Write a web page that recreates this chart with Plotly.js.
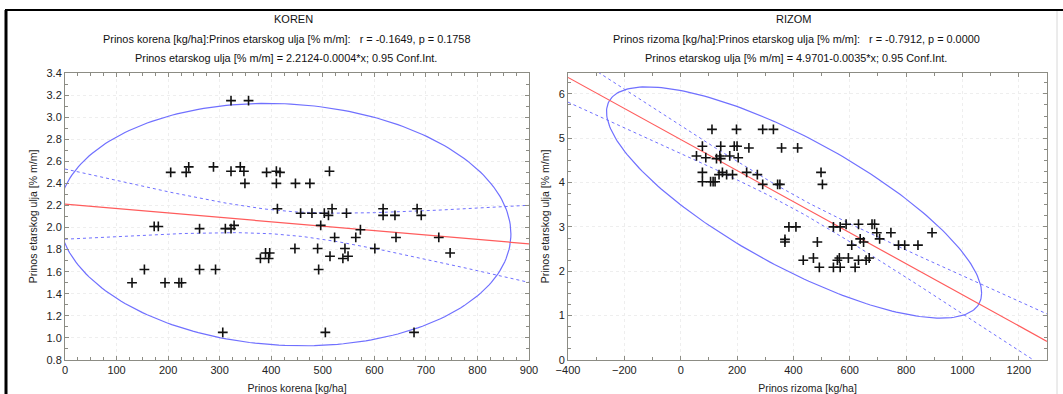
<!DOCTYPE html>
<html>
<head>
<meta charset="utf-8">
<script src="https://cdn.plot.ly/plotly-3.0.1.min.js"></script>
<style>
  html, body { margin: 0; padding: 0; background: #fff; }
  #chart { width: 1063px; height: 394px; }
</style>
</head>
<body>
<div id="chart"></div>
<script>
// ---------------- DATA ----------------
// KOREN: Prinos korena [kg/ha] vs Prinos etarskog ulja [% m/m]
const korenX = [130,154,173,181,194,205,221,226,235,240,261,261,288,292,306,311,322,322,322,328,
  340,347,349,356,379,389,391,395,397,410,410,412,417,446,447,457,475,479,490,492,
  496,503,505,511,513,514,518,523,539,543,546,549,564,573,601,617,617,640,642,677,
  683,691,725,747];
const korenY = [1.50,1.62,2.01,2.01,1.50,2.50,1.50,1.50,2.50,2.55,1.99,1.62,2.55,1.62,1.05,1.99,3.15,2.51,1.99,2.02,
  2.55,2.51,2.40,3.15,1.72,1.77,2.50,1.72,1.77,2.51,2.40,2.17,2.50,1.81,2.40,2.13,2.40,2.13,1.81,1.62,
  2.02,2.13,1.05,2.11,2.51,1.74,2.17,1.91,1.72,1.81,2.13,1.74,1.91,1.98,1.81,2.17,2.11,2.11,1.91,1.05,
  2.17,2.11,1.91,1.77];

// RIZOM: Prinos rizoma [kg/ha] vs Prinos etarskog ulja [% m/m]
const rizomX = [56,77,77,77,89,106,111,115,122,127,136,139,142,142,148,163,174,184,190,198,
  200,204,234,242,272,291,291,329,344,352,358,370,370,384,409,415,435,471,485,492,
  498,503,542,542,556,563,566,566,587,595,607,619,631,631,637,649,658,669,679,688,
  696,706,746,773,795,842,892];
const rizomY = [4.60,4.82,4.23,4.02,4.56,4.02,5.20,4.02,4.02,4.54,4.18,4.60,4.82,4.54,4.23,4.18,4.60,4.18,4.82,5.20,
  4.82,4.56,4.23,4.78,4.18,5.20,3.96,5.20,3.96,3.96,4.78,2.72,2.66,3.00,3.00,4.78,2.25,2.30,2.66,2.09,
  4.23,3.96,3.00,2.09,2.25,2.30,3.00,2.09,3.06,2.30,2.59,2.09,3.06,2.25,2.73,2.66,2.25,2.30,3.06,3.06,
  2.87,2.73,2.87,2.59,2.59,2.59,2.87];

// Stated regression results (from the chart titles)
const korenFit = { a: 2.2124, b: -0.0004, r: "-0.1649", p: "0.1758" };
const rizomFit = { a: 4.9701, b: -0.0035, r: "-0.7912", p: "0.0000" };

const titleKoren = ["KOREN",
  "Prinos korena [kg/ha]:Prinos etarskog ulja [% m/m]:   r = " + korenFit.r + ", p = " + korenFit.p,
  "Prinos etarskog ulja [% m/m] = 2.2124-0.0004*x; 0.95 Conf.Int."];
const titleRizom = ["RIZOM",
  "Prinos rizoma [kg/ha]:Prinos etarskog ulja [% m/m]:   r = " + rizomFit.r + ", p = " + rizomFit.p,
  "Prinos etarskog ulja [% m/m] = 4.9701-0.0035*x; 0.95 Conf.Int."];

const xTitleKoren = "Prinos korena [kg/ha]";
const xTitleRizom = "Prinos rizoma [kg/ha]";
const yTitle = "Prinos etarskog ulja [% m/m]";

const korenRangeX = [0, 900], korenRangeY = [0.8, 3.4];
const rizomRangeX = [-400, 1300], rizomRangeY = [0, 6.47];

// ---------------- statistics ----------------
const T_CRIT = 1.999;   // t(0.975, ~62 df)
const ELL_KX = 2.85;    // ellipse scale along x (Statistica-like 0.95 ellipse)
const ELL_KY = 2.58;    // ellipse scale along y

function stats(xs, ys) {
  const n = xs.length;
  const mx = xs.reduce((s, v) => s + v, 0) / n;
  const my = ys.reduce((s, v) => s + v, 0) / n;
  let sxx = 0, syy = 0, sxy = 0;
  for (let i = 0; i < n; i++) {
    sxx += (xs[i] - mx) ** 2; syy += (ys[i] - my) ** 2; sxy += (xs[i] - mx) * (ys[i] - my);
  }
  return { n, mx, my, sxx, sx: Math.sqrt(sxx / (n - 1)), sy: Math.sqrt(syy / (n - 1)), r: sxy / Math.sqrt(sxx * syy) };
}

function fitCurves(xs, ys, fit, range) {
  const st = stats(xs, ys);
  let sse = 0;
  for (let i = 0; i < st.n; i++) sse += (ys[i] - (fit.a + fit.b * xs[i])) ** 2;
  const s = Math.sqrt(sse / (st.n - 2));
  const lx = [], ly = [], up = [], lo = [];
  const steps = 120;
  for (let i = 0; i <= steps; i++) {
    const x = range[0] + (range[1] - range[0]) * i / steps;
    const yh = fit.a + fit.b * x;
    const se = s * Math.sqrt(1 / st.n + (x - st.mx) ** 2 / st.sxx);
    lx.push(x); ly.push(yh); up.push(yh + T_CRIT * se); lo.push(yh - T_CRIT * se);
  }
  const ex = [], ey = [];
  const rr = st.r, q = Math.sqrt(1 - rr * rr);
  for (let i = 0; i <= 240; i++) {
    const t = 2 * Math.PI * i / 240;
    ex.push(st.mx + ELL_KX * st.sx * Math.cos(t));
    ey.push(st.my + ELL_KY * st.sy * (rr * Math.cos(t) + q * Math.sin(t)));
  }
  return { lx, ly, up, lo, ex, ey };
}

const ck = fitCurves(korenX, korenY, korenFit, korenRangeX);
const cr = fitCurves(rizomX, rizomY, rizomFit, rizomRangeX);

const RED = "#ff5c5c", BLUE = "#7070ff";

function traces(c, xs, ys, xa, ya) {
  return [
    { x: c.ex, y: c.ey, xaxis: xa, yaxis: ya, mode: "lines", line: { color: BLUE, width: 1.2 }, hoverinfo: "skip" },
    { x: c.lx, y: c.up, xaxis: xa, yaxis: ya, mode: "lines", line: { color: BLUE, width: 1, dash: "dot" }, hoverinfo: "skip" },
    { x: c.lx, y: c.lo, xaxis: xa, yaxis: ya, mode: "lines", line: { color: BLUE, width: 1, dash: "dot" }, hoverinfo: "skip" },
    { x: c.lx, y: c.ly, xaxis: xa, yaxis: ya, mode: "lines", line: { color: RED, width: 1.2 }, hoverinfo: "skip" },
    { x: xs, y: ys, xaxis: xa, yaxis: ya, mode: "markers",
      marker: { symbol: "cross-thin", size: 7, color: "#000", line: { color: "#111", width: 1.6 } } }
  ];
}

const data = [].concat(
  traces(ck, korenX, korenY, "x", "y"),
  traces(cr, rizomX, rizomY, "x2", "y2")
);

const W = 1063, H = 394;
const px = v => v / W, py = v => 1 - v / H;
const FONT = "Liberation Sans, Arial, sans-serif";

function axis(range, dom, dtick, minorDtick, anchor, title, isX) {
  return {
    range: range, domain: dom, anchor: anchor, dtick: dtick, tick0: 0,
    showline: true, linecolor: "#8c8c84", linewidth: 1, mirror: "ticks",
    ticks: "inside", ticklen: 4, tickcolor: "#8c8c84",
    minor: { dtick: minorDtick, ticks: "inside", ticklen: 3, tickcolor: "#8c8c84", showgrid: false },
    showgrid: true, gridcolor: "#eeeeee", griddash: "dot", gridwidth: 1,
    zeroline: false, tickfont: { family: FONT, size: 11, color: "#222" },
    title: { text: title, font: { family: FONT, size: 10.5, color: "#222" }, standoff: isX ? 12 : 6 },
    automargin: false, fixedrange: true
  };
}

const layout = {
  width: W, height: H,
  margin: { l: 0, r: 0, t: 0, b: 0 },
  paper_bgcolor: "#fff", plot_bgcolor: "#fff",
  showlegend: false,
  xaxis: axis(korenRangeX, [px(65), px(529)], 100, 25, "y", xTitleKoren, true),
  yaxis: Object.assign(axis(korenRangeY, [1 - 360 / H, 1 - 73 / H], 0.2, 0.1, "x", yTitle, false), { tickformat: ".1f" }),
  xaxis2: axis(rizomRangeX, [px(568), px(1047)], 200, 100, "y2", xTitleRizom, true),
  yaxis2: axis(rizomRangeY, [1 - 360 / H, 1 - 73 / H], 1, 0.25, "x2", yTitle, false),
  annotations: [],
  shapes: [
    { type: "line", xref: "paper", yref: "paper", x0: px(5), x1: 1, y0: py(10), y1: py(10), line: { color: "#000", width: 2 } },
    { type: "line", xref: "paper", yref: "paper", x0: px(6), x1: px(6), y0: py(10), y1: 0, line: { color: "#000", width: 3 } },
    { type: "line", xref: "paper", yref: "paper", x0: px(1057), x1: px(1057), y0: py(11), y1: 0, line: { color: "#d8d8d8", width: 1 } }
  ]
};

function addTitles(lines, cx, cx0) {
  const ys = [19, 39, 58];
  lines.forEach((t, i) => {
    layout.annotations.push({
      text: t, xref: "paper", yref: "paper", x: px(i === 0 ? cx0 : cx), y: py(ys[i]),
      xanchor: "center", yanchor: "middle", showarrow: false,
      font: { family: FONT, size: i === 0 ? 11 : 10.9, color: "#111" }
    });
  });
}
addTitles(titleKoren, 286, 293);
addTitles(titleRizom, 796, 793);

Plotly.newPlot("chart", data, layout, { staticPlot: true, displayModeBar: false });
</script>
</body>
</html>
